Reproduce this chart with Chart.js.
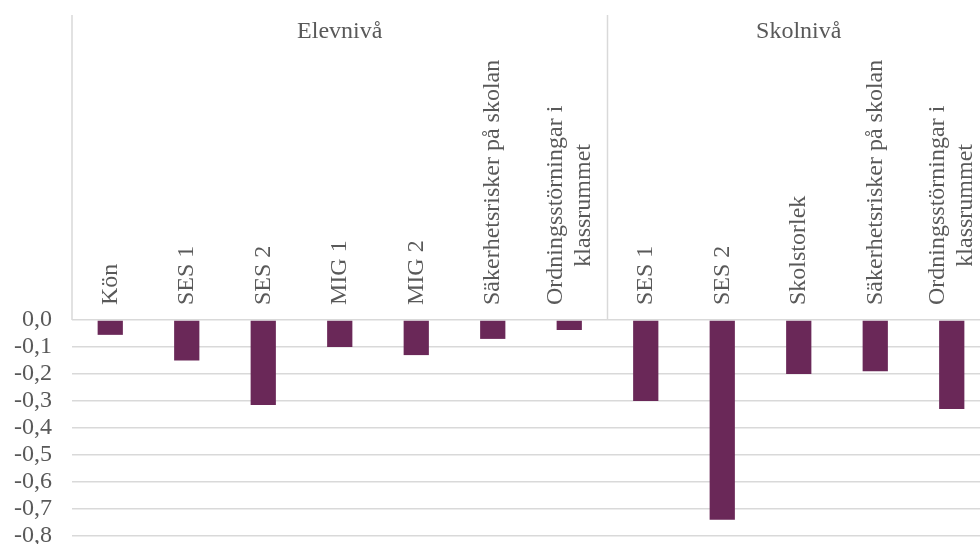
<!DOCTYPE html>
<html>
<head>
<meta charset="utf-8">
<script src="https://cdn.jsdelivr.net/npm/chart.js@4"></script>
<style>
html,body{margin:0;padding:0;background:#fff;overflow:hidden;width:980px;height:544px;}
#wrap{position:absolute;left:0;top:0;width:1000px;height:560px;}
</style>
</head>
<body>
<div id="wrap"><canvas id="c" width="1000" height="560"></canvas></div>
<script>
const categories = ['Kön','SES 1','SES 2','MIG 1','MIG 2','Säkerhetsrisker på skolan',['Ordningsstörningar i','klassrummet'],
                    'SES 1','SES 2','Skolstorlek','Säkerhetsrisker på skolan',['Ordningsstörningar i','klassrummet']];
const values = [-0.055,-0.15,-0.315,-0.10,-0.13,-0.07,-0.037,-0.30,-0.74,-0.20,-0.19,-0.33];
const groups = ['Elevnivå','Skolnivå'];
const groupSizes = [7,5];
const yMin = -0.8, yMax = 0, yStep = 0.1;

const FONT = "'Liberation Serif','Times New Roman',serif";
const TEXT = '#595959';
const LINE = '#d9d9d9';

const labelPlugin = {
  id: 'catLabels',
  afterDraw(chart) {
    const ctx = chart.ctx;
    const xs = chart.scales.x;
    const top = 15;
    const base = chart.chartArea.top;
    const n = categories.length;
    const half = (xs.getPixelForTick(1) - xs.getPixelForTick(0)) / 2;
    ctx.save();
    ctx.strokeStyle = LINE;
    ctx.lineWidth = 1.5;
    let idx = 0;
    const bounds = [xs.getPixelForTick(0) - half];
    groupSizes.forEach(s => { idx += s; bounds.push(xs.getPixelForTick(idx - 1) + half); });
    bounds.forEach(b => {
      ctx.beginPath(); ctx.moveTo(b, top); ctx.lineTo(b, base); ctx.stroke();
    });
    ctx.fillStyle = TEXT;
    ctx.font = '24px ' + FONT;
    ctx.textAlign = 'center';
    ctx.textBaseline = 'alphabetic';
    groups.forEach((g, i) => {
      ctx.fillText(g, (bounds[i] + bounds[i + 1]) / 2, 38);
    });
    ctx.textBaseline = 'middle';
    const lh = 28;
    for (let i = 0; i < n; i++) {
      const lines = Array.isArray(categories[i]) ? categories[i] : [categories[i]];
      const x = xs.getPixelForTick(i);
      const W = Math.max(...lines.map(l => ctx.measureText(l).width));
      ctx.save();
      ctx.translate(x, base - 15);
      ctx.rotate(-Math.PI / 2);
      ctx.textAlign = 'center';
      lines.forEach((l, j) => {
        ctx.fillText(l, W / 2, (j - (lines.length - 1) / 2) * lh);
      });
      ctx.restore();
    }
    ctx.restore();
  }
};

new Chart(document.getElementById('c'), {
  type: 'bar',
  data: {
    labels: categories,
    datasets: [{
      data: values,
      backgroundColor: '#6a2858',
      borderWidth: 0,
      barPercentage: 0.33,
      categoryPercentage: 1.0
    }]
  },
  options: {
    responsive: false,
    animation: false,
    layout: { padding: { left: 0, right: 10, top: 0, bottom: 24 } },
    plugins: { legend: { display: false }, tooltip: { enabled: false } },
    scales: {
      x: {
        type: 'category',
        position: 'top',
        offset: true,
        grid: { display: false },
        border: { display: false },
        ticks: { display: false },
        afterFit(s) { s.height = 320; }
      },
      y: {
        min: yMin,
        max: yMax,
        border: { display: false },
        grid: { color: LINE, lineWidth: 1.5, drawTicks: false },
        ticks: {
          stepSize: yStep,
          autoSkip: false,
          padding: 20,
          color: TEXT,
          font: { family: FONT, size: 24 },
          callback: v => (Math.abs(v) < 1e-9 ? 0 : v).toFixed(1).replace('.', ',')
        },
        afterFit(s) { s.width = 72; s.paddingTop = 0; s.paddingBottom = 0; }
      }
    }
  },
  plugins: [labelPlugin]
});
</script>
</body>
</html>
